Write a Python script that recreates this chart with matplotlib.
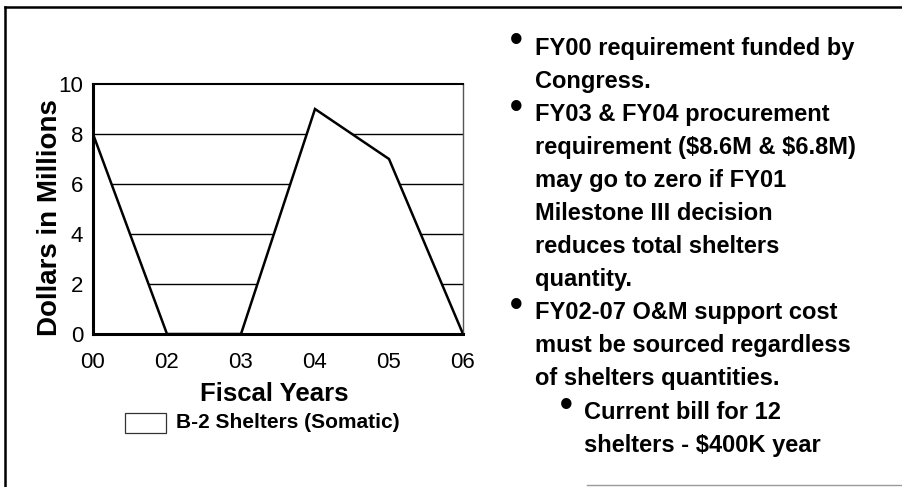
import matplotlib
matplotlib.use("Agg")
import matplotlib.pyplot as plt
from matplotlib.patches import Rectangle
from matplotlib.lines import Line2D

plt.rcParams['font.family'] = ['Liberation Sans', 'DejaVu Sans']

# data
years = ['00', '02', '03', '04', '05', '06']
dollars = [8, 0, 0, 9, 7, 0]
yticks = [0, 2, 4, 6, 8, 10]
series_name = 'B-2 Shelters (Somatic)'

bullets = [
    (0, ['FY00 requirement funded by', 'Congress.']),
    (0, ['FY03 & FY04 procurement', 'requirement ($8.6M & $6.8M)',
         'may go to zero if FY01', 'Milestone III decision',
         'reduces total shelters', 'quantity.']),
    (0, ['FY02-07 O&M support cost', 'must be sourced regardless',
         'of shelters quantities.']),
    (1, ['Current bill for 12', 'shelters - $400K year']),
]

W, H = 903, 487
fig = plt.figure(figsize=(W / 100, H / 100), dpi=100)

ax = fig.add_axes([93 / W, 1 - 334 / H, 370 / W, 250 / H])
x = list(range(len(years)))
for g in yticks[1:-1]:
    ax.axhline(g, color='black', lw=1.0, zorder=1)
ax.fill_between(x, dollars, 0, facecolor='white', zorder=2)
ax.plot(x, dollars, color='black', lw=1.8, zorder=3, solid_joinstyle='miter')
ax.set_xlim(0, len(years) - 1)
ax.set_ylim(0, 10)
ax.set_xticks(x)
ax.set_xticklabels(years)
ax.set_yticks(yticks)
ax.tick_params(length=0, labelsize=16)
ax.tick_params(axis='x', pad=13)
ax.tick_params(axis='y', pad=7)
ax.spines['left'].set_linewidth(2.2)
ax.spines['bottom'].set_linewidth(2.2)
ax.spines['top'].set_linewidth(1.5)
ax.spines['right'].set_linewidth(1.0)
ax.spines['right'].set_color('#555555')

fig.text(50 / W, 1 - 218 / H, 'Dollars in Millions', rotation=90,
         ha='center', va='center', fontsize=20, fontweight='bold')
fig.text(274 / W, 1 - 394 / H, 'Fiscal Years', ha='center', va='center',
         fontsize=18.5, fontweight='bold')

# legend
fig.add_artist(Rectangle((125 / W, 1 - 433 / H), 41 / W, 20 / H,
                         transform=fig.transFigure, facecolor='white',
                         edgecolor='#333333', lw=0.9))
fig.text(176 / W, 1 - 423 / H, series_name, ha='left', va='center',
         fontsize=15, fontweight='bold')

# bullet text
y0 = 48
step = 33.1
i = 0
for level, lines in bullets:
    bx = 516 + level * 50
    tx = 535 + level * 49
    fig.text(bx / W, 1 - (y0 + i * step - 6) / H, '\u2022', ha='center',
             va='center', fontsize=26, fontweight='bold')
    for ln in lines:
        fig.text(tx / W, 1 - (y0 + i * step) / H, ln, ha='left', va='center',
                 fontsize=17, fontweight='bold', parse_math=False)
        i += 1

# slide frame
fig.add_artist(Line2D([5 / W, 1], [1 - 7 / H, 1 - 7 / H], color='black', lw=1.8,
                      transform=fig.transFigure))
fig.add_artist(Line2D([5 / W, 5 / W], [0, 1 - 7 / H], color='black', lw=1.8,
                      transform=fig.transFigure))
fig.add_artist(Line2D([587 / W, 1], [1 - 485 / H, 1 - 485 / H], color='#999999',
                      lw=1.0, transform=fig.transFigure))

fig.savefig('out.png', dpi=100)
